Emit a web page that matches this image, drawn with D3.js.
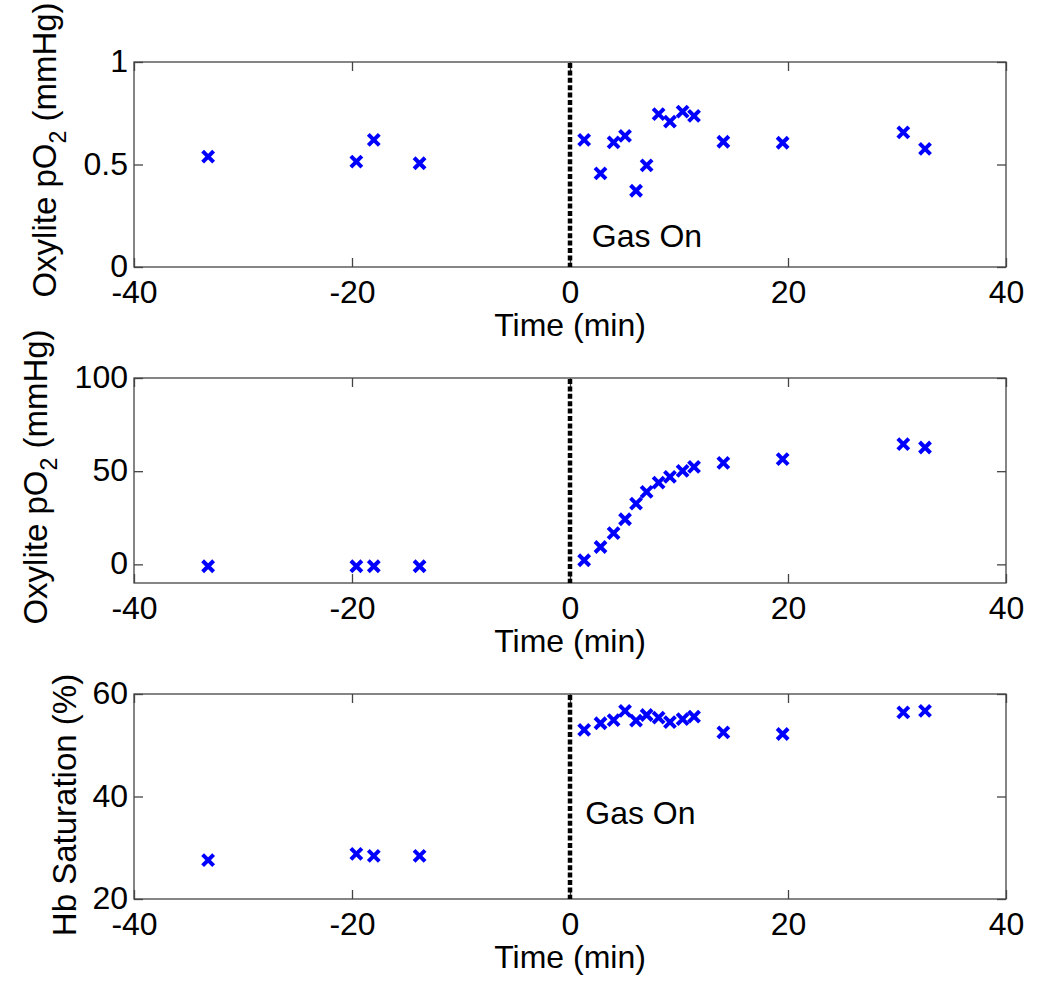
<!DOCTYPE html>
<html>
<head>
<meta charset="utf-8">
<script src="https://cdn.jsdelivr.net/npm/d3@7/dist/d3.min.js"></script>
<style>
  html, body { margin: 0; padding: 0; background: #fff; }
  svg { display: block; }
  text { font-family: Arial, "Liberation Sans", Helvetica, sans-serif; fill: #000; }
</style>
</head>
<body>
<svg id="chart" width="1050" height="1002"></svg>
<script>
// ---- Data ----
const timeMin = [-33.2, -19.6, -18.0, -13.8, 1.3, 2.8, 4.0, 5.05, 6.06, 7.03, 8.13, 9.17, 10.33, 11.38, 14.07, 19.51, 30.58, 32.57];
const oxylitePanelA = [0.538, 0.514, 0.62, 0.506, 0.62, 0.457, 0.608, 0.64, 0.372, 0.496, 0.746, 0.709, 0.758, 0.737, 0.611, 0.606, 0.657, 0.576];
const oxylitePanelB = [-1, -1, -1, -1, 2.2, 9.3, 16.8, 24.2, 32.6, 38.9, 43.9, 46.9, 50.2, 52.3, 54.5, 56.5, 64.5, 62.7];
const hbSaturation = [27.6, 28.8, 28.4, 28.4, 53.0, 54.3, 54.9, 56.7, 54.8, 55.9, 55.4, 54.5, 55.1, 55.6, 52.5, 52.2, 56.4, 56.7];
const xTicks = [-40, -20, 0, 20, 40];
const yTicksA = [0, 0.5, 1];
const yTicksB = [0, 50, 100];
const yTicksC = [20, 40, 60];
const gasOnTime = 0;

// ---- Layout ----
const svg = d3.select("#chart");
const left = 134, right = 1006;
const FS = 32;
const LFS = 33;
const x = d3.scaleLinear().domain([-40, 40]).range([left, right]);

const panels = [
  { top: 62, bottom: 267, domain: [0, 1], ticks: yTicksA, values: oxylitePanelA,
    label: ["Oxylite pO", "2", " (mmHg)"], labelX: 56, labelY: 150,
    gasOn: { t: 2.0, v: 0.1 } },
  { top: 378, bottom: 583, domain: [-10, 100], ticks: yTicksB, values: oxylitePanelB,
    label: ["Oxylite pO", "2", " (mmHg)"], labelX: 47, labelY: 477,
    gasOn: null },
  { top: 694, bottom: 899, domain: [20, 60], ticks: yTicksC, values: hbSaturation,
    label: ["Hb Saturation (%)"], labelX: 76, labelY: 805,
    gasOn: { t: 1.4, v: 34.6 } }
];

const fmt = d => String(d);
const axisColor = "#444";

panels.forEach(p => {
  const y = d3.scaleLinear().domain(p.domain).range([p.bottom, p.top]);
  const g = svg.append("g");

  // box
  g.append("rect")
    .attr("x", left).attr("y", p.top)
    .attr("width", right - left).attr("height", p.bottom - p.top)
    .attr("fill", "none").attr("stroke", axisColor).attr("stroke-width", 1.3);

  // bottom axis (labels)
  const ax = g.append("g").attr("transform", `translate(0,${p.bottom})`)
    .call(d3.axisBottom(x).tickValues(xTicks).tickFormat(fmt).tickSize(-9).tickSizeOuter(0));
  ax.selectAll("text").attr("y", 36).attr("dy", 0).attr("font-size", FS)
    .style("font-family", "Arial, 'Liberation Sans', sans-serif");
  // top axis (ticks only)
  const axt = g.append("g").attr("transform", `translate(0,${p.top})`)
    .call(d3.axisTop(x).tickValues(xTicks).tickFormat("").tickSize(-9).tickSizeOuter(0));
  // left axis
  const ay = g.append("g").attr("transform", `translate(${left},0)`)
    .call(d3.axisLeft(y).tickValues(p.ticks).tickFormat(fmt).tickSize(-9).tickSizeOuter(0));
  ay.selectAll("text").attr("x", -6).attr("dy", "0.3em").attr("font-size", FS)
    .style("font-family", "Arial, 'Liberation Sans', sans-serif");
  // right axis (ticks only)
  const ayr = g.append("g").attr("transform", `translate(${right},0)`)
    .call(d3.axisRight(y).tickValues(p.ticks).tickFormat("").tickSize(-9).tickSizeOuter(0));

  [ax, axt, ay, ayr].forEach(a => {
    a.select(".domain").remove();
    a.selectAll("line").attr("stroke", axisColor).attr("stroke-width", 1.3);
  });

  // x label
  g.append("text")
    .attr("x", (left + right) / 2).attr("y", p.bottom + 69)
    .attr("text-anchor", "middle").attr("font-size", FS)
    .text("Time (min)");

  // y label (rotated)
  const yl = g.append("text")
    .attr("transform", `translate(${p.labelX},${p.labelY}) rotate(-90)`)
    .attr("text-anchor", "middle").attr("font-size", LFS);
  if (p.label.length === 3) {
    yl.append("tspan").text(p.label[0]);
    yl.append("tspan").attr("font-size", 23).attr("dy", 10).text(p.label[1]);
    yl.append("tspan").attr("dy", -10).text(p.label[2]);
  } else {
    yl.text(p.label[0]);
  }

  // Gas On vertical dotted line
  g.append("line")
    .attr("x1", x(gasOnTime)).attr("x2", x(gasOnTime))
    .attr("y1", p.top + 1).attr("y2", p.bottom)
    .attr("stroke", "#000").attr("stroke-width", 4.5)
    .attr("stroke-dasharray", "5,2.4");

  if (p.gasOn) {
    g.append("text")
      .attr("x", x(p.gasOn.t)).attr("y", y(p.gasOn.v))
      .attr("font-size", FS).text("Gas On");
  }

  // markers
  const pts = timeMin.map((t, i) => ({ t, v: p.values[i] }));
  g.selectAll("path.mk").data(pts).enter().append("path")
    .attr("class", "mk")
    .attr("transform", d => `translate(${x(d.t)},${y(d.v)})`)
    .attr("d", "M-5.5,-5.5L5.5,5.5M5.5,-5.5L-5.5,5.5")
    .attr("stroke", "#0000ff").attr("stroke-width", 4)
    .attr("fill", "none");
});
</script>
</body>
</html>
